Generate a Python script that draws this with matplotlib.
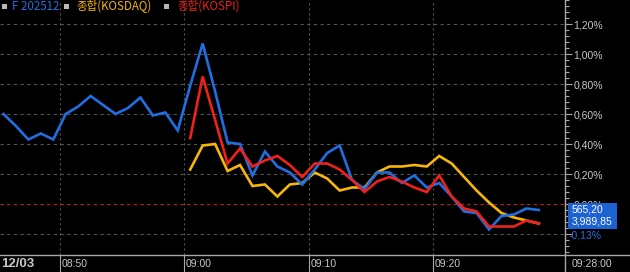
import matplotlib
matplotlib.use("Agg")
import matplotlib.pyplot as plt
from matplotlib.lines import Line2D
from matplotlib.patches import Rectangle
from matplotlib.ticker import MultipleLocator, FixedLocator
import numpy as np

plt.rcParams['font.family'] = ['Liberation Sans', 'Noto Sans CJK KR', 'DejaVu Sans']

# ---- data (percent change, one point per minute; minute index relative to 09:00, point at k+0.5) ----
fut_minutes = list(range(-15, 29))
fut_values = [0.60, 0.52, 0.43, 0.47, 0.43, 0.60, 0.65, 0.72, 0.66, 0.60, 0.64, 0.71, 0.59, 0.61, 0.49,
              0.79, 1.07, 0.75, 0.41, 0.40, 0.19, 0.35, 0.25, 0.21, 0.13, 0.23, 0.34, 0.39, 0.16, 0.10,
              0.21, 0.21, 0.14, 0.19, 0.11, 0.14, 0.05, -0.05, -0.06, -0.17, -0.08, -0.07, -0.03, -0.04]
idx_minutes = list(range(0, 29))
kospi_values = [0.44, 0.85, 0.56, 0.27, 0.37, 0.25, 0.29, 0.32, 0.26, 0.18, 0.27, 0.27, 0.23, 0.16, 0.08,
                0.15, 0.18, 0.15, 0.11, 0.08, 0.19, 0.05, -0.03, -0.05, -0.15, -0.15, -0.15, -0.11, -0.13]
kosdaq_values = [0.23, 0.39, 0.40, 0.22, 0.26, 0.12, 0.13, 0.05, 0.13, 0.14, 0.21, 0.17, 0.09, 0.11, 0.11,
                 0.21, 0.25, 0.25, 0.26, 0.25, 0.32, 0.27, 0.18, 0.09, 0.01, -0.06, -0.09, -0.11, -0.13]
series_names = ["F 202512", "종합(KOSDAQ)", "종합(KOSPI)"]
x_tick_pos = [-10, 0, 10, 20]
x_tick_labels = ["08:50", "09:00", "09:10", "09:20"]
y_ticks = [0.0, 0.2, 0.4, 0.6, 0.8, 1.0, 1.2]
date_label = "12/03"
time_label = "09:28:00"
box_texts = ["565,20", "3,989,85"]
chg_label = "-0,13%"

BLUE = "#1f6fe0"
YELLOW = "#f5b50a"
RED = "#f0201a"
GRID = "#555555"
AXC = "#a8a8a8"
TXT = "#c8c8c8"

W, H = 630, 272
fig = plt.figure(figsize=(W / 100, H / 100), dpi=100, facecolor="black")
ax_right = 565
ax_bottom = 255
ax = fig.add_axes([0, (H - ax_bottom) / H, ax_right / W, ax_bottom / H], facecolor="black")

px_per_min = 12.45
x0 = 184  # pixel of 09:00
ax.set_xlim(-x0 / px_per_min, (ax_right - x0) / px_per_min)
ax.set_ylim(-51 / 150, 204 / 150)

for s in ["top", "left", "bottom", "right"]:
    ax.spines[s].set_visible(False)

# grid
for yv in [-0.2] + y_ticks:
    if yv == 0.0:
        continue
    ax.axhline(yv, color=GRID, lw=0.8, dashes=(3, 3), zorder=1)
for xv in x_tick_pos:
    ax.axvline(xv, color=GRID, lw=0.8, dashes=(2, 2.5), zorder=1)
ax.axhline(0.0, color="#c02020", lw=0.8, dashes=(3, 3), zorder=1)

lw = 1.9
fx = np.array(fut_minutes) + 0.5
ix = np.array(idx_minutes) + 0.5
ax.plot(ix, kosdaq_values, color=YELLOW, lw=lw, zorder=3, solid_joinstyle="miter")
ax.plot(fx, fut_values, color=BLUE, lw=lw, zorder=4, solid_joinstyle="miter")
ax.plot(ix, kospi_values, color=RED, lw=lw, zorder=5, solid_joinstyle="miter")

# right axis ticks
ax.yaxis.tick_right()
ax.yaxis.set_major_locator(FixedLocator([-0.2] + y_ticks))
ax.yaxis.set_minor_locator(MultipleLocator(0.04))
ax.tick_params(axis="y", which="major", length=5, width=0.8, color=AXC, pad=1,
               labelcolor=TXT, labelsize=7.5)
ax.tick_params(axis="y", which="minor", length=3, width=0.8, color=AXC)
ax.set_yticklabels([""] + [f"{v:.2f}%".replace(".", ",") for v in y_ticks])
ax.set_xticks([])

# figure-level axis lines
fig.add_artist(Line2D([0, 1], [(H - ax_bottom) / H] * 2, color=AXC, lw=1.0, transform=fig.transFigure))
fig.add_artist(Line2D([ax_right / W] * 2, [0, 1], color=AXC, lw=1.0, transform=fig.transFigure))

# x labels with separators
for xv, lab in zip(x_tick_pos, x_tick_labels):
    xp = x0 + xv * px_per_min
    fig.add_artist(Line2D([xp / W] * 2, [0, (H - ax_bottom) / H], color=AXC, lw=0.8,
                          transform=fig.transFigure))
    fig.text((xp + 2) / W, (H - 264) / H, lab, color=TXT, fontsize=7.5, va="center", ha="left")
fig.text(1 / W, (H - 264) / H, date_label, color=TXT, fontsize=9.5, fontweight="bold",
         va="center", ha="left")
fig.text(572 / W, (H - 264) / H, time_label, color=TXT, fontsize=7.5, va="center", ha="left")

# value box
fig.add_artist(Rectangle((568 / W, (H - 229) / H), 49 / W, 26 / H, transform=fig.transFigure,
                         facecolor="#1c62d2", edgecolor="none", zorder=10))
fig.text(572 / W, (H - 209.5) / H, box_texts[0], color="white", fontsize=7.5, va="center",
         ha="left", zorder=11)
fig.text(572 / W, (H - 222) / H, box_texts[1], color="white", fontsize=7.5, va="center",
         ha="left", zorder=11)
fig.text(569 / W, (H - 236) / H, chg_label, color="#2a6fd8", fontsize=7.5, va="center",
         ha="left", zorder=11)

# legend
leg_colors = [BLUE, YELLOW, RED]
sq_x = [2, 64, 164]
tx_x = [12, 76, 177]
for sx, tx, name, c in zip(sq_x, tx_x, series_names, leg_colors):
    fig.add_artist(Rectangle((sx / W, (H - 9) / H), 5 / W, 5 / H, transform=fig.transFigure,
                             facecolor="#b8b8b8", edgecolor="none"))
    fig.text(tx / W, (H - 6.5) / H, name, color=c, fontsize=8.3, va="center", ha="left",
             family=['Noto Sans CJK KR', 'DejaVu Sans'])

fig.savefig("out.png", dpi=100, facecolor="black")
